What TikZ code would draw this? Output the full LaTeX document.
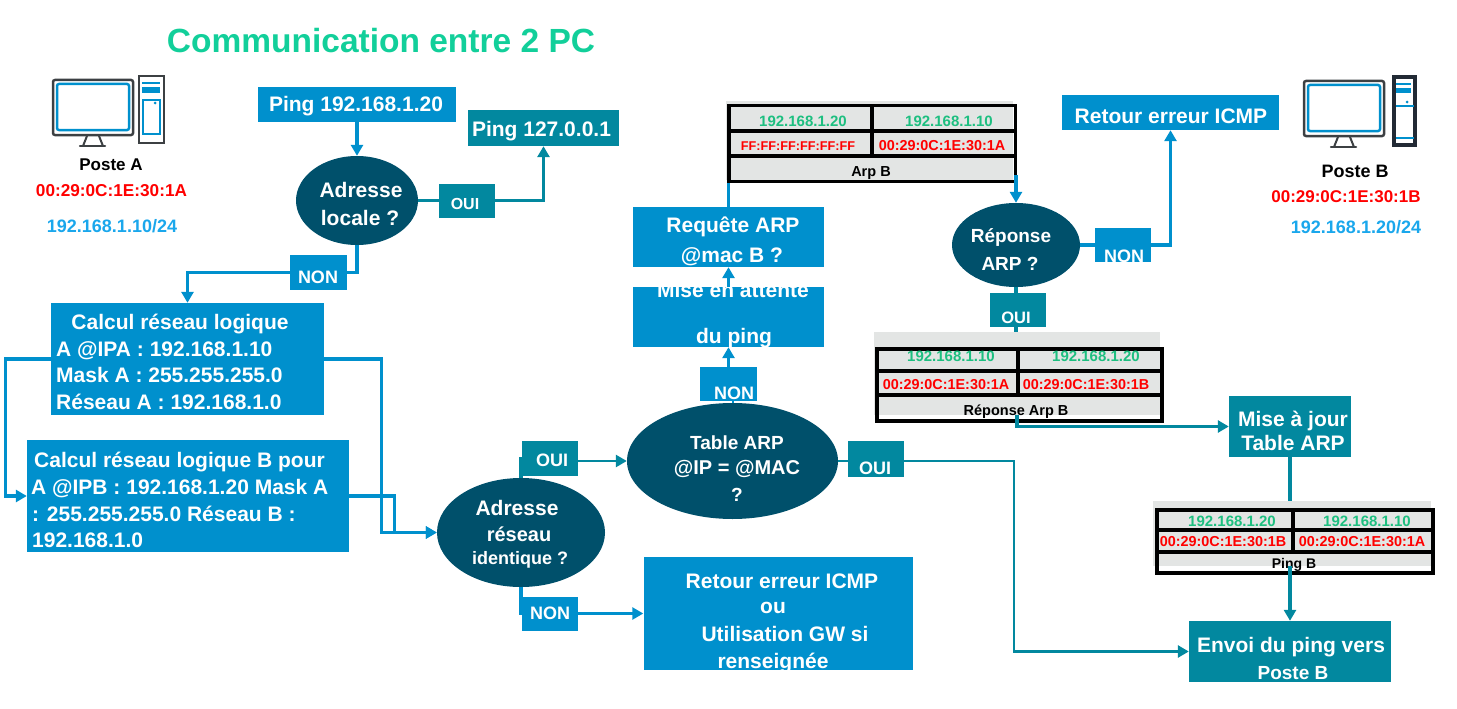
\documentclass[tikz,border=0pt]{standalone}
\usepackage{fontspec}
\setmainfont{Liberation Sans}
\usetikzlibrary{arrows.meta,shapes.geometric}
\definecolor{bleu}{HTML}{0090CD}
\definecolor{sarcelle}{HTML}{02889F}
\definecolor{nuit}{HTML}{00506B}
\definecolor{titre}{HTML}{12CF9A}
\definecolor{ciel}{HTML}{1AA7EC}
\definecolor{vert}{HTML}{1DBF80}
\definecolor{gris}{HTML}{E3E5E4}
\definecolor{ardoise}{HTML}{3C4043}
\definecolor{encre}{HTML}{222A35}
\newcommand{\fs}[1]{\fontsize{#1}{#1}\selectfont\bfseries}
\tikzset{
  boite/.style={fill=bleu,inner sep=0pt,text=white,font=\fs{21}},
  boiteb/.style={fill=sarcelle,inner sep=0pt,text=white,font=\fs{21}},
  bulle/.style={ellipse,fill=nuit,inner sep=0pt},
  blanc/.style={inner sep=0pt,text=white,font=\fs{#1}},
  fond/.style={fill=gris,inner sep=0pt},
  cadre/.style={draw=black,line width=3.5pt,inner sep=0pt},
  liena/.style={draw=bleu,line width=3.3pt},
  lienb/.style={draw=sarcelle,line width=3.3pt},
  fleche/.style={-{Triangle[length=11pt,width=12pt]}},
}
\begin{document}
\begin{tikzpicture}[x=1pt,y=-1pt]
\useasboundingbox (0,0) rectangle (1457,709);
\node[inner sep=0pt,text=titre,font=\fs{33.5}] (titre) at (381,41) {Communication entre 2 PC};
% les deux postes
\foreach \dx/\dy in {0/0,1251/1} {
\begin{scope}[shift={(\dx,\dy)}]
\draw[ardoise,line width=2.5pt,rounded corners=2pt] (53,80) rectangle (133,135);
\draw[bleu,line width=2.5pt,rounded corners=2pt] (57,84) rectangle (129,130);
\draw[ardoise,line width=2pt] (87,136) -- (83,146) (99,136) -- (103,146);
\draw[ardoise,line width=2.5pt,line cap=round] (80,146) -- (105,146);
\end{scope}
}
\draw[ardoise,line width=2.5pt] (139,76) rectangle (164,143);
\draw[bleu,line width=1.5pt] (142,83) -- (160,83);
\fill[bleu] (142,87) rectangle (160,93);
\draw[bleu,line width=2pt] (143,99.5) rectangle (160,134);
\fill[bleu] (155,103) circle (1.5pt);
\draw[encre,line width=4pt] (1394,77) rectangle (1415,145);
\draw[bleu,line width=2pt] (1396,84) -- (1411,84);
\fill[bleu] (1396,88) rectangle (1411,93);
\draw[bleu,line width=2.5pt] (1396,106) -- (1414,106) (1396,138) -- (1414,138);
\fill[bleu] (1407,102) circle (1.5pt);
\node[inner sep=0pt,font=\fs{17}] (posteA) at (111,165) {Poste A};
\node[inner sep=0pt,text=red,font=\fs{17.2}] (macA) at (111.5,191) {00:29:0C:1E:30:1A};
\node[inner sep=0pt,text=ciel,font=\fs{18}] (ipA) at (112,226) {192.168.1.10/24};
\node[inner sep=0pt,font=\fs{18}] (posteB) at (1355,171) {Poste B};
\node[inner sep=0pt,text=red,font=\fs{17}] (macB) at (1346,197) {00:29:0C:1E:30:1B};
\node[inner sep=0pt,text=ciel,font=\fs{18}] (ipB) at (1356,227) {192.168.1.20/24};
% partie gauche
\node[boite,minimum width=198,minimum height=35] (ping) at (357,104.5) {};
\node[blanc=21] (pingt) at (356,106) {Ping 192.168.1.20};
\node[boiteb,minimum width=151,minimum height=36] (boucle) at (543.5,128) {};
\node[blanc=21] (bouclet) at (541.5,131) {Ping 127.0.0.1};
\node[bulle,minimum width=122,minimum height=89] (locale) at (357,200.5) {};
\node[blanc=21] (localea) at (361,190) {Adresse};
\node[blanc=21] (localeb) at (360,218) {locale ?};
\node[boiteb,minimum width=56,minimum height=34] (ouiL) at (467,200.5) {};
\node[blanc=16] (ouiLt) at (465,204) {OUI};
\node[boite,minimum width=57,minimum height=35] (nonL) at (318.5,272.5) {};
\node[blanc=18] (nonLt) at (318,277) {NON};
\node[boite,minimum width=273,minimum height=112] (calcA) at (187.5,359) {};
\node[blanc=21] (calcAa) at (180,324) {Calcul réseau logique};
\node[blanc=21,anchor=west] (calcAb) at (56,351) {A @IPA : 192.168.1.10};
\node[blanc=21,anchor=west] (calcAc) at (56,375) {Mask A : 255.255.255.0};
\node[blanc=21,anchor=west] (calcAd) at (56,402) {Réseau A : 192.168.1.0};
\node[boite,minimum width=322,minimum height=112] (calcB) at (188,496) {};
\node[blanc=21,anchor=west] (calcBa) at (34,462) {Calcul réseau logique B pour};
\node[blanc=21,anchor=west] (calcBb) at (31,489) {A @IPB : 192.168.1.20 Mask A};
\node[blanc=21,anchor=west] (calcBc) at (32,514) {: 255.255.255.0 Réseau B :};
\node[blanc=21,anchor=west] (calcBd) at (32,540) {192.168.1.0};
\node[bulle,minimum width=168,minimum height=109] (reseau) at (521,532.5) {};
\node[blanc=21] (reseaua) at (517,508) {Adresse};
\node[blanc=20] (reseaub) at (519,534) {réseau};
\node[blanc=18] (reseauc) at (520,560) {identique ?};
\node[boiteb,minimum width=56,minimum height=35] (ouiS) at (550,458.5) {};
\node[blanc=18] (ouiSt) at (552,460) {OUI};
\node[boite,minimum width=56,minimum height=34,font=\fs{18}] (nonS) at (550,613.5) {NON};
\node[boite,minimum width=269.5,minimum height=113] (retour) at (778.25,613.5) {};
\node[blanc=21] (retoura) at (782,581) {Retour erreur ICMP};
\node[blanc=21] (retourb) at (773,608) {ou};
\node[blanc=21] (retourc) at (785,634) {Utilisation GW si};
\node[blanc=21] (retourd) at (773,663) {renseignée};
% partie centrale
\node[bulle,minimum width=211,minimum height=116] (table) at (732.5,461) {};
\node[blanc=19] (tablea) at (737,443) {Table ARP};
\node[blanc=20] (tableb) at (737,469) {@IP = @MAC};
\node[blanc=19] (tablec) at (737,495) {?};
\node[boite,minimum width=57,minimum height=34] (nonT) at (728.5,384) {};
\node[blanc=18] (nonTt) at (734,393) {NON};
\node[boiteb,minimum width=56,minimum height=36] (ouiT) at (876,459) {};
\node[blanc=18] (ouiTt) at (875,468) {OUI};
\node[boite,minimum width=191,minimum height=60] (mise) at (728.5,317) {};
\begin{scope}
\clip (mise.south west) rectangle (mise.north east);
\node[blanc=21] (misea) at (733,289.5) {Mise en attente};
\end{scope}
\node[blanc=21] (miseb) at (734,338) {du ping};
\node[boite,minimum width=191,minimum height=60] (requete) at (728.5,237) {};
\node[blanc=21] (requetea) at (733,227) {Requête ARP};
\node[blanc=21] (requeteb) at (732,257) {@mac B ?};
% trame Arp B
\node[fond,minimum width=287,minimum height=79] (arpfond) at (869.5,140.5) {};
\node[cadre,minimum width=286.5,minimum height=76] (arp) at (872.25,143.5) {};
\draw[line width=3.5pt] (872,105.5) -- (872,156);
\foreach \y in {131,156} {
\draw[line width=3.5pt] (729,\y) -- (1015.5,\y);
}
\node[inner sep=0pt,text=vert,font=\fs{15}] (arpa) at (803,121) {192.168.1.20};
\node[inner sep=0pt,text=vert,font=\fs{15}] (arpb) at (949,121) {192.168.1.10};
\node[inner sep=0pt,text=red,font=\fs{12.7}] (arpc) at (798,146) {FF:FF:FF:FF:FF:FF};
\node[inner sep=0pt,text=red,font=\fs{14.4}] (arpd) at (942,146) {00:29:0C:1E:30:1A};
\node[inner sep=0pt,font=\fs{14.5}] (arpe) at (871,173) {Arp B};
% partie droite
\node[bulle,minimum width=128,minimum height=84] (reponse) at (1016,245) {};
\node[blanc=19] (reponsea) at (1011,238) {Réponse};
\node[blanc=19] (reponseb) at (1010,264) {ARP ?};
\node[boite,minimum width=217,minimum height=35] (retourB) at (1170.5,112.5) {};
\node[blanc=21] (retourBt) at (1171,116) {Retour erreur ICMP};
\node[boite,minimum width=56,minimum height=34] (nonR) at (1123,245) {};
\node[blanc=18] (nonRt) at (1124,256) {NON};
\node[boiteb,minimum width=56,minimum height=34] (ouiR) at (1018,310) {};
\node[blanc=16.5] (ouiRt) at (1016,318) {OUI};
% trame Reponse Arp B
\node[fond,minimum width=286,minimum height=83] (repfond) at (1017,373.5) {};
\node[cadre,minimum width=285,minimum height=72] (rep) at (1019.5,385) {};
\draw[line width=3.5pt] (1018,349) -- (1018,395);
\foreach \y in {371,395} {
\draw[line width=3.5pt] (877,\y) -- (1162,\y);
}
\node[inner sep=0pt,text=vert,font=\fs{15}] (repa) at (951,356) {192.168.1.10};
\node[inner sep=0pt,text=vert,font=\fs{15}] (repb) at (1096,356) {192.168.1.20};
\node[inner sep=0pt,text=red,font=\fs{14.4}] (repc) at (946,385) {00:29:0C:1E:30:1A};
\node[inner sep=0pt,text=red,font=\fs{14.4}] (repd) at (1086,385) {00:29:0C:1E:30:1B};
\node[inner sep=0pt,font=\fs{14.5}] (repe) at (1016,412) {Réponse Arp B};
\node[boiteb,minimum width=122,minimum height=61] (majour) at (1290,426.5) {};
\node[blanc=21] (majoura) at (1293,421) {Mise à jour};
\node[blanc=21] (majourb) at (1293,443) {Table ARP};
% trame Ping B
\node[fond,minimum width=278,minimum height=65] (pingfond) at (1292,533.5) {};
\node[cadre,minimum width=276,minimum height=63] (pingB) at (1295,541.5) {};
\draw[line width=3.5pt] (1293,510) -- (1293,552);
\foreach \y in {530,552} {
\draw[line width=3.5pt] (1157,\y) -- (1433,\y);
}
\node[inner sep=0pt,text=vert,font=\fs{15}] (pinga) at (1232,521) {192.168.1.20};
\node[inner sep=0pt,text=vert,font=\fs{15}] (pingb) at (1367,521) {192.168.1.10};
\node[inner sep=0pt,text=red,font=\fs{14.4}] (pingc) at (1223,542) {00:29:0C:1E:30:1B};
\node[inner sep=0pt,text=red,font=\fs{14.4}] (pingd) at (1362,542) {00:29:0C:1E:30:1A};
\node[inner sep=0pt,font=\fs{14}] (pinge) at (1294,565) {Ping B};
\node[boiteb,minimum width=202,minimum height=61] (envoi) at (1290,651.5) {};
\node[blanc=21] (envoia) at (1291,647) {Envoi du ping vers};
\node[blanc=19] (envoib) at (1293,673) {Poste B};
\coordinate (virage) at (1014,651.5);
% liens
\draw[liena,fleche] (ping.south) -- (locale.north);
\draw[lienb] (locale.east) -- (ouiL.west);
\draw[lienb,fleche] (ouiL.east) -| (boucle.south);
\draw[liena] (locale.south) |- (nonL.east);
\draw[liena,fleche] (nonL.west) -| (calcA.north);
\draw[liena,fleche] (calcA.west) -- ++(-45,0) |- (calcB.west);
\draw[liena,fleche] (calcA.east) -- ++(57,0) |- (reseau.west);
\draw[liena,fleche] (calcB.east) -- ++(45,0) |- (reseau.west);
\draw[lienb] (reseau.north) |- (ouiS.west);
\draw[lienb,line width=2.5pt,fleche] (ouiS.east |- table.west) -- (table.west);
\draw[liena] (reseau.south) |- (nonS.west);
\draw[liena,line width=2.5pt,fleche] (nonS.east) -- (retour.west);
\draw[liena,line width=2pt] (table.north) -- (table.north |- nonT.south);
\draw[liena,fleche] (nonT.north) -- (mise.south);
\draw[liena,fleche] (mise.north) -- (requete.south);
\draw[liena] (requete.north) -- (requete.north |- arp.south);
\draw[liena,fleche] ([yshift=8pt]reponse.north |- arp.south) -- (reponse.north);
\draw[liena] (reponse.east) -- (nonR.west);
\draw[liena,fleche] (nonR.east) -| (retourB.south);
\draw[lienb] (reponse.south) -- (reponse.south |- ouiR.north);
\draw[lienb] (reponse.south |- ouiR.south) -- (reponse.south |- repfond.north);
\draw[lienb,fleche] (repfond.south) |- (majour.west);
\draw[lienb] (majour.south) -- (majour.south |- pingfond.north);
\draw[lienb,fleche] (envoi.north |- pingfond.south) -- (envoi.north);
\draw[lienb,line width=2pt] (table.east) -- (table.east -| ouiT.west);
\draw[lienb,line width=2.8pt,fleche] (table.east -| ouiT.east) -- (table.east -| virage) -- (virage) -- (envoi.west);
\end{tikzpicture}
\end{document}
